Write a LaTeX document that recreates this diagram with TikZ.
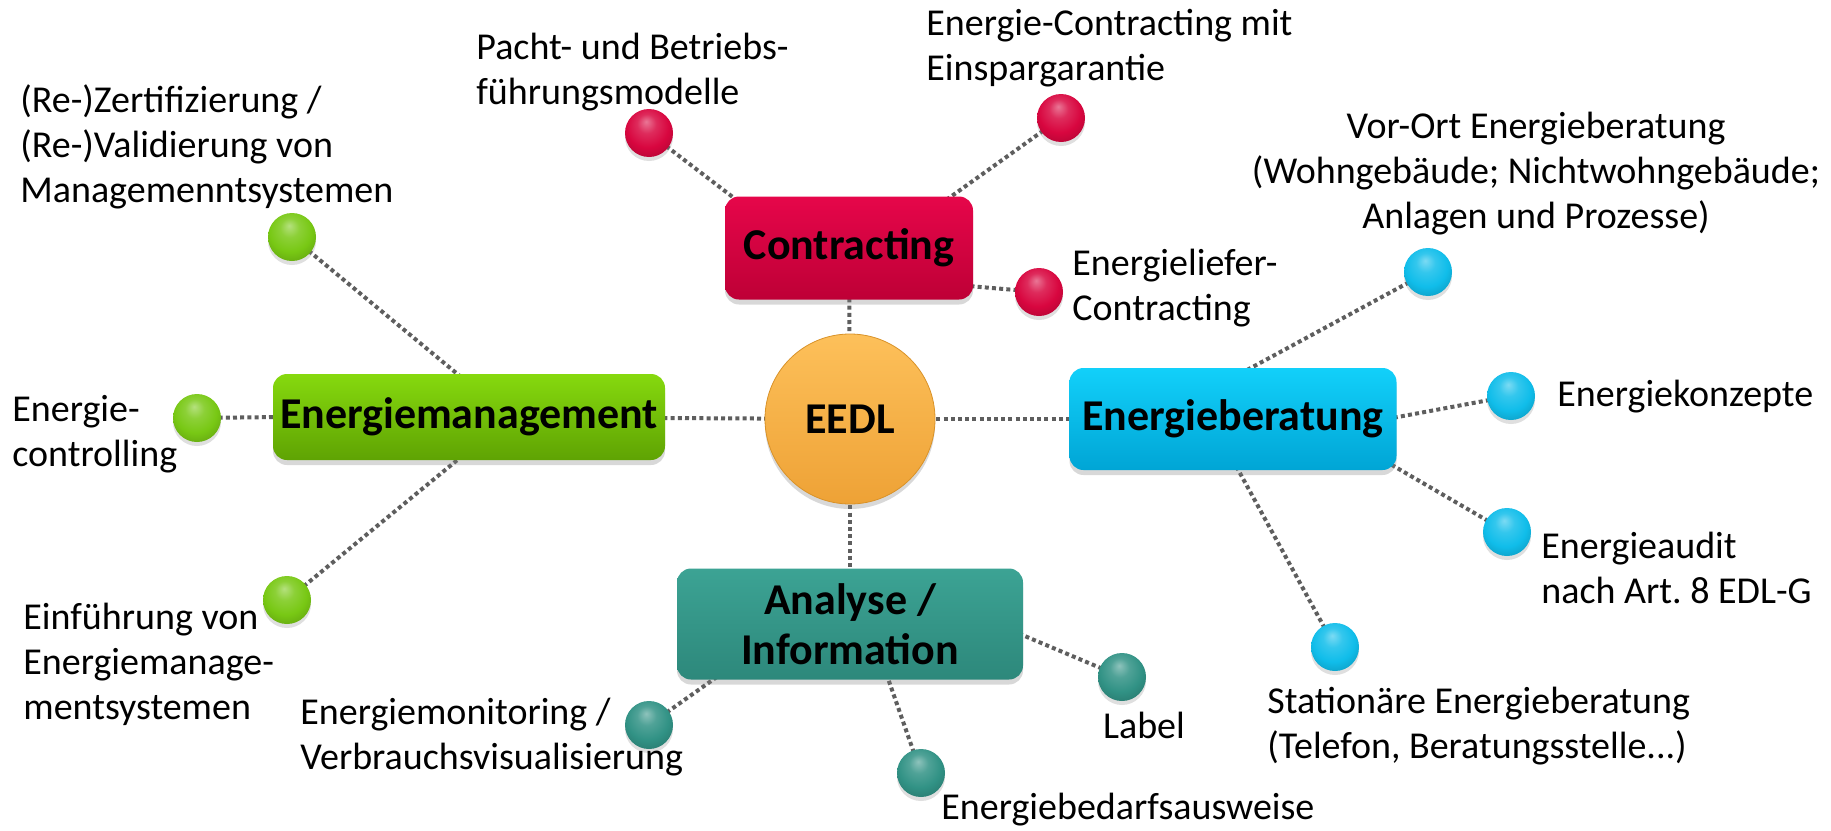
\documentclass[tikz,border=0pt]{standalone}
\usepackage{fontspec}
\setmainfont{Carlito}
\usetikzlibrary{shadows,backgrounds,calc}
\makeatletter
\pgfdeclareradialshading[tikz@ball]{softball}{\pgfqpoint{-3bp}{12bp}}{%
  color(0bp)=(tikz@ball!55!white);
  color(10bp)=(tikz@ball!85!white);
  color(22bp)=(tikz@ball);
  color(30bp)=(tikz@ball!88!black);
  color(50bp)=(tikz@ball!60!black)}
\makeatother
\definecolor{crimT}{HTML}{E6064A}
\definecolor{crimB}{HTML}{BE0036}
\definecolor{crim}{HTML}{D8063F}
\definecolor{grnT}{HTML}{86D90E}
\definecolor{grnB}{HTML}{5FA303}
\definecolor{grn}{HTML}{78C814}
\definecolor{cyT}{HTML}{12D0FA}
\definecolor{cyB}{HTML}{00A5D5}
\definecolor{cy}{HTML}{10BDEA}
\definecolor{tlT}{HTML}{3CA394}
\definecolor{tlB}{HTML}{2D887B}
\definecolor{tl}{HTML}{319285}
\definecolor{orT}{HTML}{FDC05A}
\definecolor{orB}{HTML}{EEA236}
\definecolor{orD}{HTML}{D99228}
\definecolor{linegray}{HTML}{5E5E5E}
\begin{document}
\begin{tikzpicture}[x=0.5pt,y=-0.5pt,
  box/.style={rectangle, rounded corners=7pt, inner sep=0pt, align=center,
    font=\fontsize{22}{25}\selectfont\bfseries,
    drop shadow={shadow xshift=0pt,shadow yshift=-2.5pt,opacity=0.3}},
  knob/.style={circle, minimum size=24pt, inner sep=0pt, ball color=#1, shading=softball,
    drop shadow={shadow xshift=0pt,shadow yshift=-2pt,opacity=0.25}},
  lbl/.style={inner sep=0pt, font=\fontsize{19}{22.5}\selectfont, align=left, anchor=west},
  conn/.style={draw=linegray, line width=2pt, dash pattern=on 2pt off 1.6pt}]
\useasboundingbox (0,0) rectangle (1831,830);
% main boxes
\node[box, minimum width=124pt, minimum height=51.5pt, top color=crimT, bottom color=crimB] (contr) at (849,248) {Contracting};
\node[box, minimum width=196pt, minimum height=43pt, top color=grnT, bottom color=grnB] (mgmt) at (469,417) {Energiemanagement};
\node[box, minimum width=163.5pt, minimum height=51pt, top color=cyT, bottom color=cyB] (ber) at (1233,419) {Energieberatung};
\node[box, minimum width=173pt, minimum height=55.5pt, top color=tlT, bottom color=tlB] (ana) at (850,624) {Analyse /\\Information};
\node[circle, minimum size=85pt, inner sep=0pt, top color=orT, bottom color=orB, draw=orD, line width=0.4pt,
  font=\fontsize{22}{25}\selectfont\bfseries,
  drop shadow={shadow xshift=0pt,shadow yshift=-2.5pt,opacity=0.3}] (eedl) at (850,419) {EEDL};
% balls
\node[knob=crim] (pacht) at (649,133) {};
\node[knob=crim] (einspar) at (1061,118) {};
\node[knob=crim] (liefer) at (1039,292) {};
\node[knob=grn] (zert) at (292,237) {};
\node[knob=grn] (ctrl) at (197,418) {};
\node[knob=grn] (einf) at (287,600) {};
\node[knob=cy] (vorort) at (1428,272) {};
\node[knob=cy] (konz) at (1511,396) {};
\node[knob=cy] (audit) at (1507,532) {};
\node[knob=cy] (stat) at (1335,647) {};
\node[knob=tl] (labelb) at (1122,677) {};
\node[knob=tl] (bedarf) at (921,773) {};
\node[knob=tl] (monit) at (649,725) {};
% texts
\node[lbl] (tpacht) at (476,72) {Pacht- und Betriebs-\\führungsmodelle};
\node[lbl] (teinspar) at (926,48) {Energie-Contracting mit\\Einspargarantie};
\node[lbl] (tzert) at (20,147) {(Re-)Zertifizierung /\\(Re-)Validierung von\\Managemenntsystemen};
\node[lbl, align=center, anchor=center] (tvorort) at (1536,174) {Vor-Ort Energieberatung\\(Wohngebäude; Nichtwohngebäude;\\Anlagen und Prozesse)};
\node[lbl] (tliefer) at (1072,288) {Energieliefer-\\Contracting};
\node[lbl] (tkonz) at (1557,397) {Energiekonzepte};
\node[lbl] (taudit) at (1541,568) {Energieaudit\\nach Art.\ 8 EDL-G};
\node[lbl] (tstat) at (1267,726) {Stationäre Energieberatung\\(Telefon, Beratungsstelle...)};
\node[lbl, anchor=center] (tlabel) at (1144,725) {Label};
\node[lbl] (tbedarf) at (941,810) {Energiebedarfsausweise};
\node[lbl] (tmonit) at (300,737) {Energiemonitoring /\\Verbrauchsvisualisierung};
\node[lbl] (tctrl) at (12,434) {Energie-\\controlling};
\node[lbl] (teinf) at (23,664) {Einführung von\\Energiemanage-\\mentsystemen};
% connectors
\begin{scope}[on background layer]
\fill[white] (0,0) rectangle (1831,830);
\draw[conn] (pacht.center) -- ([shift={(20,10)}]contr.north west);
\draw[conn] (einspar.center) -- ([shift={(-33,8)}]contr.north east);
\draw[conn] (liefer.center) -- ([shift={(-6,-14)}]contr.south east);
\draw[conn] (contr.center) -- (eedl.center);
\draw[conn] (mgmt.center) -- (eedl.center);
\draw[conn] (eedl.center) -- (ber.center);
\draw[conn] (eedl.center) -- (ana.center);
\draw[conn] (zert.center) -- ([shift={(0,10)}]mgmt.north);
\draw[conn] (einf.center) -- ([shift={(0,-10)}]mgmt.south);
\draw[conn] (ctrl.center) -- ([shift={(10,0)}]mgmt.west);
\draw[conn] (vorort.center) -- ([shift={(0,10)}]ber.north);
\draw[conn] (konz.center) -- ([shift={(-10,0)}]ber.east);
\draw[conn] (audit.center) -- ([shift={(-6,-6)}]ber.south east);
\draw[conn] (stat.center) -- ([shift={(0,-10)}]ber.south);
\draw[conn] (monit.center) -- ([shift={(53,-12)}]ana.south west);
\draw[conn] (bedarf.center) -- ([shift={(35,-10)}]ana.south);
\draw[conn] (labelb.center) -- ([shift={(-13,6)}]ana.east);
\end{scope}
\end{tikzpicture}
\end{document}
